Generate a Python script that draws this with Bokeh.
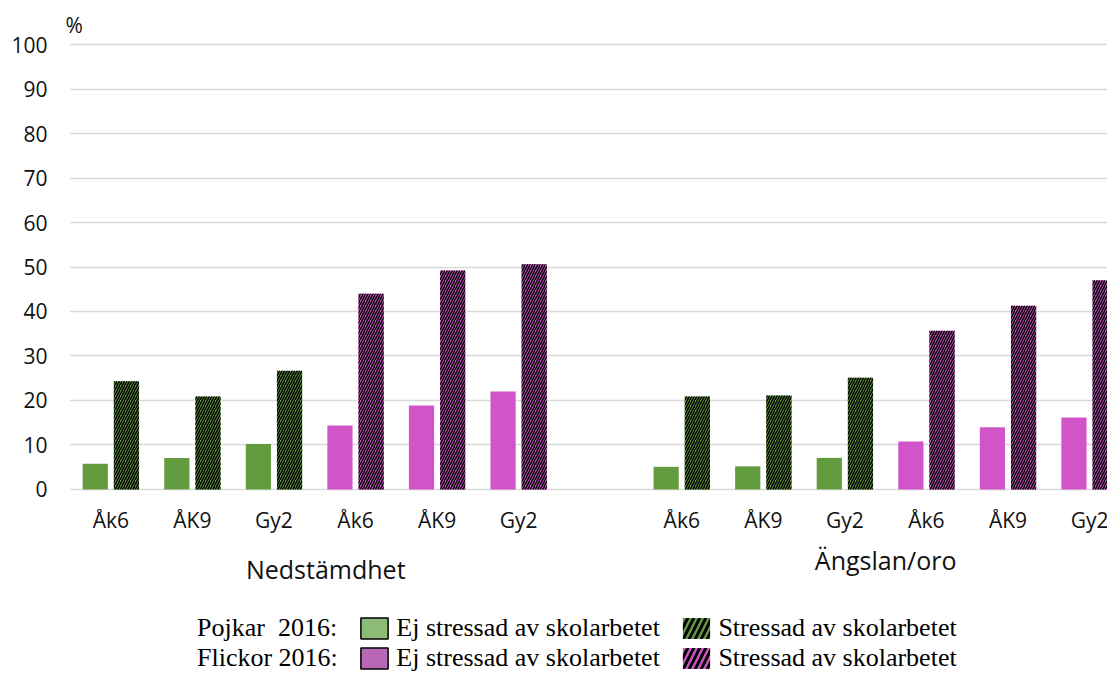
from bokeh.plotting import figure
from bokeh.models import (Range1d, FixedTicker, Legend, LegendItem,
                          ColumnDataSource)
from bokeh.transform import dodge
from bokeh.embed import file_html
from bokeh.resources import INLINE
from bokeh.core.properties import value

# ---------------- data ----------------
groups = ["Nedstämdhet", "Ängslan/oro"]
grades = ["Åk6", "ÅK9", "Gy2", "Åk6", "ÅK9", "Gy2"]
sex = ["Pojkar", "Pojkar", "Pojkar", "Flickor", "Flickor", "Flickor"]

ej_stressad_nedstamdhet = [5.8, 7.1, 10.2, 14.4, 18.9, 22.0]
stressad_nedstamdhet = [24.3, 20.9, 26.7, 44.0, 49.2, 50.6]
ej_stressad_angslan = [5.1, 5.2, 7.1, 10.8, 14.0, 16.2]
stressad_angslan = [20.9, 21.1, 25.1, 35.7, 41.3, 47.0]

y_ticks = [0, 10, 20, 30, 40, 50, 60, 70, 80, 90, 100]
legend_rows = ["Pojkar  2016:", "Flickor 2016:"]
legend_labels = ["Ej stressad av skolarbetet", "Stressad av skolarbetet"]

# ---------------- styling ----------------
bar_color = {"Pojkar": "#639b3f", "Flickor": "#d155c8"}
legend_color = {"Pojkar": "#8cbb78", "Flickor": "#b866b6"}
FONT = "Open Sans"
TXT = "#111111"
GRID = "#d9d9d9"

# slots: each group gets len(grades) slots, one empty slot between groups
n = len(grades)
xs, solid, hatched, colors, cat_text = [], [], [], [], []
gx, gtext = [], []
for gi, (ej, st) in enumerate([(ej_stressad_nedstamdhet, stressad_nedstamdhet),
                               (ej_stressad_angslan, stressad_angslan)]):
    pos = [gi * (n + 1) + k for k in range(n)]
    gx.append(sum(pos) / len(pos))
    gtext.append(groups[gi])
    for k in range(n):
        xs.append(pos[k])
        solid.append(ej[k])
        hatched.append(st[k])
        colors.append(bar_color[sex[k]])
        cat_text.append(grades[k])

src = ColumnDataSource(dict(x=xs, solid=solid, hatched=hatched, color=colors,
                            label=cat_text, zero=[0] * len(xs)))
gsrc = ColumnDataSource(dict(x=gx, text=gtext, zero=[0] * len(gx),
                             dx=[11, 0], dy=[80, 71]))

# frame extends below zero so that category labels and legend can be drawn
p = figure(width=1107, height=673,
           x_range=Range1d(-0.507, 12.22), y_range=Range1d(-41.35, 100.9),
           output_backend="svg", toolbar_location=None, x_axis_location=None,
           min_border_left=69, min_border_right=0, min_border_top=40,
           min_border_bottom=0, title="%")
p.outline_line_color = None

BW = 0.309
OFF = 0.191
p.vbar(x=dodge("x", -OFF, range=p.x_range), top="solid", width=BW, source=src,
       fill_color="color", line_color=None)
p.vbar(x=dodge("x", OFF, range=p.x_range), top="hatched", width=BW, source=src,
       fill_color="color", line_color=None,
       hatch_pattern="/", hatch_color="black", hatch_scale=5, hatch_weight=1.5)

# category labels under the zero line
p.text(x="x", y="zero", text="label", source=src, y_offset=31,
       text_align="center", text_baseline="middle",
       text_font=value(FONT), text_font_size="21px", text_color=TXT)
# group labels
p.text(x="x", y="zero", text="text", source=gsrc, x_offset="dx", y_offset="dy",
       text_align="center", text_baseline="middle",
       text_font=value(FONT), text_font_size="25px", text_color=TXT)

# title "%"
p.title.text_font = FONT
p.title.text_font_size = "21px"
p.title.text_font_style = "normal"
p.title.text_color = TXT
p.title.align = "left"
p.title.offset = -4
p.title.standoff = 3

p.yaxis.ticker = FixedTicker(ticks=y_ticks)
p.yaxis.axis_line_color = None
p.yaxis.major_tick_line_color = None
p.yaxis.minor_tick_line_color = None
p.yaxis.major_tick_out = 0
p.yaxis.major_label_standoff = 22
p.yaxis.major_label_text_font = FONT
p.yaxis.major_label_text_font_size = "21px"
p.yaxis.major_label_text_color = TXT

p.xgrid.visible = False
p.ygrid.grid_line_color = GRID
p.ygrid.grid_line_width = 1.5

# legend swatches: renderers holding no drawable point
NAN = float("nan")
items = []
for s, row_label in zip(["Pojkar", "Flickor"], legend_rows):
    blank = p.vbar(x=[NAN], top=[NAN], width=BW, fill_alpha=0, line_alpha=0)
    sw1 = p.vbar(x=[NAN], top=[NAN], width=BW, fill_color=legend_color[s],
                 line_color="black", line_width=1.5)
    sw2 = p.vbar(x=[NAN], top=[NAN], width=BW, fill_color=bar_color[s],
                 line_color=None, hatch_pattern="/", hatch_color="black",
                 hatch_scale=12, hatch_weight=3)
    pad = "\u00a0\u00a0\u00a0"
    items += [LegendItem(label=row_label + pad, renderers=[blank]),
              LegendItem(label=legend_labels[0] + pad, renderers=[sw1]),
              LegendItem(label=legend_labels[1], renderers=[sw2])]

legend = Legend(items=items, orientation="horizontal", ncols=3,
                location=(89, 0), spacing=-4, padding=0, margin=0,
                glyph_width=34, glyph_height=26, label_standoff=5,
                label_text_font="Liberation Serif", label_text_font_size="26px",
                label_text_color="#000000",
                border_line_color=None, background_fill_alpha=0)
p.add_layout(legend)

open("out.html", "w").write(file_html(p, INLINE))
